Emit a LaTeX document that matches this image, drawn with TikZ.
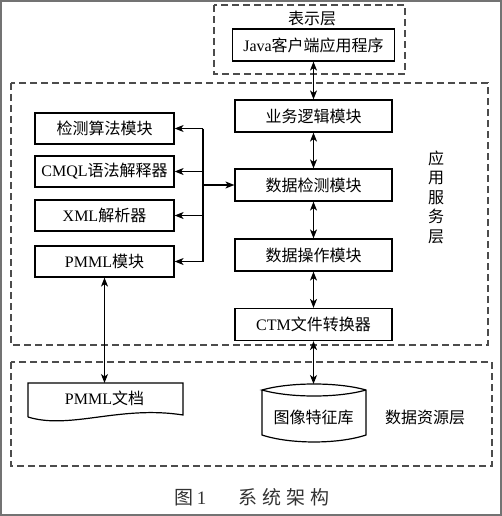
\documentclass[tikz,border=0pt]{standalone}
\usepackage{fontspec}
\setmainfont{Noto Sans CJK SC}
\newfontfamily\lat{Liberation Serif}
\usetikzlibrary{arrows.meta}
\begin{document}
\begin{tikzpicture}[x=1pt,y=-1pt,
 box/.style={draw,line width=1.2pt,minimum height=31pt,inner sep=0pt,font=\fontsize{16}{19}\selectfont},
 rbox/.style={box,minimum width=157pt,minimum height=32pt},
 lbox/.style={box,minimum width=139pt},
 lay/.style={draw=black!70,line width=1.3pt,dash pattern=on 7pt off 4pt},
 tip/.tip={Stealth[length=9pt,width=7pt,inset=2.5pt]},
 arr/.style={line width=1.1pt,-tip},
 darr/.style={line width=1.1pt,tip-tip},
 lbl/.style={font=\fontsize{16}{19.5}\selectfont,inner sep=0pt,align=center}]
\useasboundingbox (0,0) rectangle (502,516);
\draw[black!55,line width=1.8pt] (0.9,0.9) rectangle (501.1,515.1);
% layers
\draw[lay] (214,5) rectangle (405,74);
\draw[lay] (11,83) rectangle (488,345);
\draw[lay] (11,362) rectangle (492,466);
\node[lbl] (tL) at (312,18) {表示层};
\node[lbl] (aL) at (436,197) {应\\用\\服\\务\\层};
\node[lbl] (dL) at (425,417) {数据资源层};
% boxes
\node[box,minimum width=162pt,minimum height=32pt] (java) at (313.5,45) {{\lat Java}客户端应用程序};
\node[rbox] (r1) at (313.5,116) {业务逻辑模块};
\node[rbox] (r2) at (313.5,185) {数据检测模块};
\node[rbox] (r3) at (313.5,255) {数据操作模块};
\node[rbox] (r4) at (313.5,324.5) {{\lat CTM}文件转换器};
\node[lbox] (l1) at (104.5,128.5) {检测算法模块};
\node[lbox] (l2) at (104.5,171.5) {{\lat CMQL}语法解释器};
\node[lbox] (l3) at (104.5,215.5) {{\lat XML}解析器};
\node[lbox] (l4) at (104.5,261.5) {{\lat PMML}模块};
% document shape
\draw[line width=1.2pt] (28,417) -- (28,383) -- (183,383) -- (183,415)
  .. controls (120,405) and (70,430) .. (28,417);
\node[lbl] (doc) at (104.5,398) {{\lat PMML}文档};
\coordinate (docTop) at (104.5,383);
% cylinder
\draw[line width=1.2pt] (262,390) -- (262,435) .. controls (290,444.3) and (338,444.3) .. (366,435) -- (366,390)
  .. controls (338,382) and (290,382) .. (262,390)
  .. controls (290,398) and (338,398) .. (366,390);
\node[lbl] (cyl) at (313.5,417) {图像特征库};
\coordinate (cylTop) at (313.5,384);
% bus
\coordinate (bt) at (203,128.5);
\coordinate (bb) at (203,261.5);
\draw[line width=1.1pt] (bt) -- (bb);
\draw[arr] (bt) -- (l1.east);
\draw[arr] (bt|-l2.east) -- (l2.east);
\draw[arr] (bt|-l3.east) -- (l3.east);
\draw[arr] (bb) -- (l4.east);
\draw[arr] (bt|-r2.west) -- (r2.west);
% vertical arrows
\draw[darr] (java.south) -- (r1.north);
\draw[darr] (r1.south) -- (r2.north);
\draw[darr] (r2.south) -- (r3.north);
\draw[darr] (r3.south) -- (r4.north);
\draw[darr] (r4.south) -- (cylTop);
\draw[darr] (l4.south) -- (docTop);
% caption
\node[font=\fontsize{19}{22}\selectfont,text=black!80,inner sep=0pt] (cap) at (252,497) {图\,{\lat 1}\hspace{1.7em}系\hspace{0.26em}统\hspace{0.26em}架\hspace{0.26em}构};
\end{tikzpicture}
\end{document}
